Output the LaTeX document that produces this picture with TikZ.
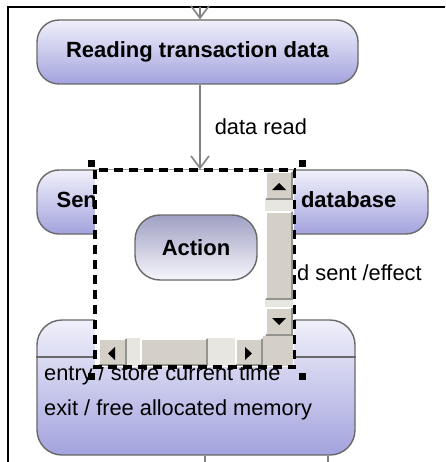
\documentclass[tikz,border=0pt]{standalone}
\usepackage{fontspec}
\setmainfont{Liberation Sans}
\usepackage{xcolor}
\usetikzlibrary{arrows.meta, positioning}
\definecolor{stTop}{RGB}{240,240,251}
\definecolor{stBot}{RGB}{163,163,222}
\definecolor{actTop}{RGB}{160,160,196}
\definecolor{actBot}{RGB}{246,246,251}
\definecolor{edge}{RGB}{105,105,105}
\definecolor{transgray}{RGB}{130,130,130}
\definecolor{btngray}{RGB}{212,208,200}
\definecolor{btnshade}{RGB}{150,148,142}
\definecolor{trackgray}{RGB}{232,230,225}

\begin{document}
\begin{tikzpicture}[
    x=1pt, y=-1pt,
    state/.style={draw=edge, line width=1.4pt, rounded corners=22pt, top color=stTop, bottom color=stBot, font=\fontsize{22}{26}\selectfont\bfseries, inner sep=0pt},
    action/.style={draw=edge, line width=1.4pt, rounded corners=25pt, top color=actTop, bottom color=actBot, font=\fontsize{22}{26}\selectfont\bfseries, inner sep=0pt},
    lbl/.style={font=\fontsize{21.8}{26}\selectfont, text=black, inner sep=0pt},
    trans/.style={transgray, line width=1.6pt, -{Straight Barb[length=12pt, width=18pt]}},
    sel/.style={black, line width=3.2pt, dash pattern=on 9pt off 6pt},
]
\useasboundingbox (0,0) rectangle (445,462);
\draw[black, line width=2pt] (8,462) -- (8,7) -- (445,7);

\coordinate (in) at (200,7);
\coordinate (out1) at (205,462);
\coordinate (out2) at (328,462);
\coordinate (cmp) at (0,357);

\node[state, minimum width=321pt, minimum height=64pt] (read) at (197.5,52) {Reading transaction data};
\node[state, minimum width=391pt, minimum height=64pt] (send) at (232.5,202) {Sending transaction to database\kern12pt};
\node[state, minimum width=318pt, minimum height=135pt, rounded corners=25pt] (store) at (196,387.5) {};

\draw[trans] (in) -- (in |- read.north);
\draw[trans] (in |- read.south) -- node[lbl, right=14pt] (readlbl) {data read} (in |- send.north);
\draw[edge, line width=1.4pt] (store.west |- cmp) -- (store.east |- cmp);
\draw[transgray, line width=1.6pt] (out1 |- store.south) -- (out1);
\draw[transgray, line width=1.6pt] (out2 |- store.south) -- (out2);

\node[lbl, anchor=west] (sentlbl) at (297,273) {d sent /effect};
\node[lbl, anchor=west] (entry) at (44,375) {entry / store current time};
\node[lbl, anchor=west] (exit) at (44,410) {exit / free allocated memory};

\fill[white] (95,170) rectangle (294,367);
\node[action, minimum width=122pt, minimum height=65pt] (act) at (196,247.5) {Action};

\fill[trackgray] (265,170) rectangle (293,338);
\fill[trackgray] (98,338) rectangle (263,366);
\fill[btngray] (263,336) rectangle (293,366);
\foreach \xa/\ya/\xb/\yb in {265/171/293/200, 265/211/293/300, 265/307/293/336, 98/338/127/366, 140/338/208/366, 235/338/263/366} {
  \fill[btngray] (\xa,\ya) rectangle (\xb,\yb);
  \draw[white, line width=1.5pt] (\xa+1,\yb-1) -- (\xa+1,\ya+1) -- (\xb-1,\ya+1);
  \draw[btnshade, line width=1.5pt] (\xa+1,\yb-1) -- (\xb-1,\yb-1) -- (\xb-1,\ya+1);
}
\fill (272,190) -- (286,190) -- (279,183) -- cycle;
\fill (272,318) -- (286,318) -- (279,325) -- cycle;
\fill (115,347) -- (115,360) -- (108,353.5) -- cycle;
\fill (245,347) -- (245,360) -- (252,353.5) -- cycle;

\draw[sel] (95,170) rectangle (294.5,367);
\foreach \hx/\hy in {91.5/163.5, 302.5/163.5, 91.5/376, 302.5/376}
  \fill (\hx-3.5,\hy-3.5) rectangle (\hx+3.5,\hy+3.5);
\end{tikzpicture}
\end{document}
